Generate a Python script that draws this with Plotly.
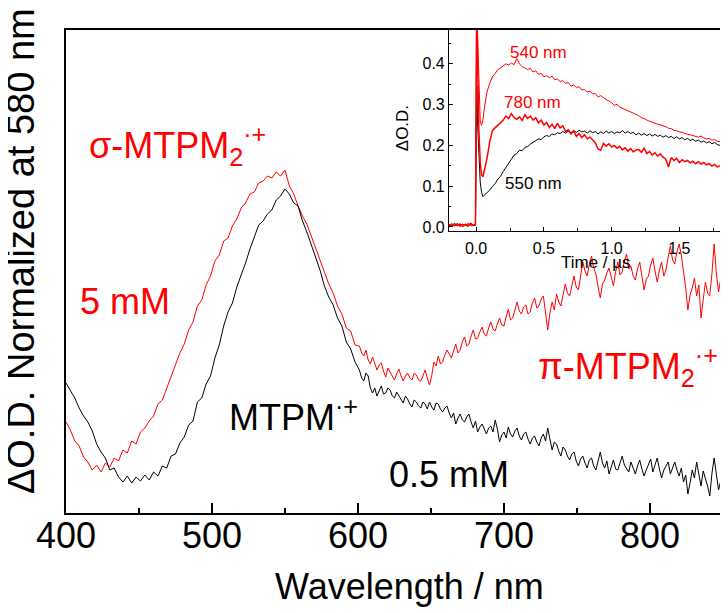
import plotly.graph_objects as go

# main spectra: every 3 nm below 600 nm, every 1.5 nm above
WAVELENGTH = list(range(400, 600, 3)) + [601 + 1.5 * i for i in range(167)]
OD_05MM = [
    0.520, 0.492, 0.460, 0.420, 0.388, 0.364, 0.328, 0.276, 0.244, 0.220,
    0.172, 0.180, 0.144, 0.124, 0.148, 0.120, 0.144, 0.128, 0.152, 0.132,
    0.164, 0.148, 0.188, 0.180, 0.228, 0.236, 0.280, 0.304, 0.352, 0.368,
    0.444, 0.460, 0.516, 0.548, 0.620, 0.672, 0.748, 0.804, 0.840, 0.904,
    0.948, 1.000, 1.056, 1.108, 1.152, 1.168, 1.196, 1.212, 1.252, 1.268,
    1.296, 1.276, 1.240, 1.228, 1.168, 1.124, 1.072, 1.016, 0.972, 0.908,
    0.864, 0.832, 0.780, 0.748, 0.684, 0.656, 0.604,
    # 601 nm onwards
    0.572, 0.540, 0.528, 0.560, 0.548, 0.500, 0.480, 0.500, 0.468, 0.492,
    0.508, 0.476, 0.480, 0.500, 0.492, 0.468, 0.460, 0.484, 0.468, 0.452,
    0.440, 0.468, 0.456, 0.436, 0.424, 0.452, 0.444, 0.428, 0.420, 0.444,
    0.436, 0.416, 0.444, 0.424, 0.412, 0.440, 0.436, 0.416, 0.404, 0.420,
    0.428, 0.400, 0.380, 0.400, 0.356, 0.380, 0.396, 0.372, 0.364, 0.384,
    0.396, 0.364, 0.340, 0.368, 0.324, 0.344, 0.356, 0.336, 0.316, 0.340,
    0.348, 0.324, 0.372, 0.336, 0.284, 0.312, 0.324, 0.300, 0.344, 0.316,
    0.304, 0.328, 0.340, 0.308, 0.292, 0.316, 0.324, 0.296, 0.276, 0.300,
    0.308, 0.284, 0.268, 0.300, 0.316, 0.288, 0.340, 0.296, 0.252, 0.284,
    0.276, 0.248, 0.228, 0.264, 0.252, 0.228, 0.212, 0.236, 0.244, 0.208,
    0.188, 0.216, 0.228, 0.200, 0.180, 0.212, 0.220, 0.188, 0.172, 0.208,
    0.244, 0.200, 0.180, 0.208, 0.156, 0.184, 0.212, 0.176, 0.172, 0.200,
    0.228, 0.192, 0.180, 0.164, 0.204, 0.180, 0.156, 0.188, 0.212, 0.176,
    0.148, 0.172, 0.196, 0.216, 0.164, 0.188, 0.220, 0.176, 0.140, 0.172,
    0.188, 0.204, 0.156, 0.184, 0.204, 0.172, 0.148, 0.180, 0.124, 0.152,
    0.076, 0.120, 0.172, 0.140, 0.204, 0.156, 0.108, 0.168, 0.140, 0.108,
    0.068, 0.160, 0.220, 0.148, 0.092, 0.128, 0.116,
]
OD_5MM = [
    0.364, 0.332, 0.288, 0.268, 0.224, 0.204, 0.172, 0.192, 0.164, 0.200,
    0.184, 0.220, 0.208, 0.252, 0.240, 0.288, 0.276, 0.324, 0.340, 0.368,
    0.388, 0.436, 0.452, 0.500, 0.548, 0.588, 0.640, 0.676, 0.732, 0.764,
    0.828, 0.852, 0.912, 0.948, 1.008, 1.032, 1.088, 1.100, 1.148, 1.176,
    1.220, 1.240, 1.276, 1.284, 1.320, 1.328, 1.348, 1.340, 1.364, 1.348,
    1.372, 1.308, 1.276, 1.228, 1.188, 1.156, 1.108, 1.052, 1.004, 0.964,
    0.916, 0.880, 0.828, 0.796, 0.740, 0.728, 0.672,
    # 601 nm onwards
    0.668, 0.640, 0.628, 0.652, 0.612, 0.596, 0.624, 0.596, 0.572, 0.592,
    0.600, 0.568, 0.544, 0.580, 0.564, 0.548, 0.532, 0.556, 0.576, 0.548,
    0.528, 0.548, 0.560, 0.540, 0.532, 0.560, 0.552, 0.532, 0.528, 0.548,
    0.572, 0.540, 0.512, 0.548, 0.604, 0.588, 0.628, 0.596, 0.604, 0.632,
    0.652, 0.636, 0.620, 0.648, 0.676, 0.640, 0.652, 0.684, 0.704, 0.668,
    0.676, 0.708, 0.732, 0.696, 0.700, 0.724, 0.744, 0.716, 0.708, 0.740,
    0.764, 0.736, 0.728, 0.756, 0.780, 0.752, 0.748, 0.784, 0.816, 0.772,
    0.780, 0.812, 0.844, 0.808, 0.796, 0.824, 0.832, 0.796, 0.804, 0.840,
    0.860, 0.820, 0.828, 0.856, 0.868, 0.800, 0.732, 0.800, 0.844, 0.812,
    0.876, 0.844, 0.828, 0.872, 0.916, 0.880, 0.868, 0.908, 0.948, 0.904,
    0.892, 0.948, 1.004, 0.968, 0.948, 0.996, 1.028, 0.980, 0.956, 0.904,
    0.860, 0.916, 0.932, 0.960, 0.980, 0.944, 0.908, 0.964, 1.004, 0.952,
    0.964, 1.008, 1.036, 0.976, 0.988, 0.948, 0.932, 0.976, 1.004, 0.948,
    0.892, 0.936, 0.948, 0.992, 1.020, 0.968, 0.924, 0.972, 1.004, 0.948,
    0.972, 1.024, 1.068, 1.012, 0.996, 1.044, 1.076, 1.032, 0.972, 0.900,
    0.812, 0.872, 0.900, 0.940, 0.868, 0.912, 0.780, 0.860, 0.924, 0.880,
    0.868, 0.960, 1.076, 0.960, 0.884, 0.936, 0.980,
]

# inset kinetics (time in µs)
TIME_US = ([-0.20, -0.18, -0.16, -0.14, -0.12, -0.10, -0.08, -0.06, -0.04, -0.02,
            -0.005, 0.0, 0.005, 0.01, 0.02, 0.03, 0.04, 0.05, 0.06]
           + [round(0.08 + 0.02 * i, 2) for i in range(87)])
OD_540 = [
    0.004, 0.008, 0.002, 0.006, 0.001, 0.007, 0.003, 0.009, 0.002, 0.005,
    0.004, 0.60, 0.62, 0.48, 0.33, 0.26, 0.249, 0.262, 0.29,
    0.331, 0.352, 0.368, 0.376, 0.386, 0.390, 0.394, 0.400, 0.397, 0.402,
    0.398, 0.413, 0.400, 0.393, 0.390, 0.386, 0.389, 0.380, 0.383, 0.374,
    0.377, 0.368, 0.371, 0.366, 0.370, 0.361, 0.363, 0.356, 0.359, 0.352,
    0.354, 0.345, 0.348, 0.342, 0.344, 0.336, 0.337, 0.331, 0.333, 0.326,
    0.327, 0.319, 0.322, 0.316, 0.312, 0.309, 0.305, 0.298, 0.301, 0.294,
    0.291, 0.289, 0.284, 0.281, 0.279, 0.275, 0.273, 0.268, 0.266, 0.262,
    0.259, 0.256, 0.254, 0.252, 0.250, 0.247, 0.246, 0.242, 0.241, 0.237,
    0.236, 0.233, 0.232, 0.229, 0.228, 0.226, 0.224, 0.222, 0.220, 0.223,
    0.218, 0.216, 0.217, 0.213, 0.214, 0.210, 0.209,
]
OD_780 = [
    0.006, 0.002, 0.008, 0.003, 0.007, 0.001, 0.006, 0.004, 0.009, 0.003,
    0.005, 0.60, 0.62, 0.42, 0.24, 0.16, 0.128, 0.123, 0.136,
    0.168, 0.208, 0.236, 0.243, 0.250, 0.256, 0.262, 0.272, 0.266, 0.278,
    0.268, 0.264, 0.270, 0.261, 0.275, 0.266, 0.272, 0.262, 0.268, 0.255,
    0.262, 0.250, 0.256, 0.244, 0.252, 0.241, 0.254, 0.243, 0.248, 0.234,
    0.238, 0.228, 0.236, 0.222, 0.229, 0.219, 0.226, 0.216, 0.220, 0.214,
    0.206, 0.191, 0.188, 0.205, 0.198, 0.204, 0.196, 0.200, 0.193, 0.198,
    0.189, 0.194, 0.186, 0.192, 0.184, 0.189, 0.190, 0.183, 0.193, 0.180,
    0.185, 0.176, 0.182, 0.174, 0.179, 0.171, 0.166, 0.147, 0.170, 0.163,
    0.168, 0.158, 0.165, 0.160, 0.163, 0.157, 0.161, 0.155, 0.160, 0.154,
    0.158, 0.152, 0.155, 0.149, 0.153, 0.147, 0.150,
]
OD_550 = [
    0.003, 0.007, 0.004, 0.008, 0.002, 0.006, 0.005, 0.001, 0.007, 0.004,
    0.006, 0.20, 0.347, 0.26, 0.16, 0.11, 0.085, 0.074, 0.078,
    0.083, 0.090, 0.099, 0.106, 0.117, 0.124, 0.136, 0.147, 0.158, 0.166,
    0.176, 0.180, 0.188, 0.187, 0.195, 0.197, 0.203, 0.208, 0.211, 0.216,
    0.214, 0.221, 0.224, 0.222, 0.228, 0.226, 0.231, 0.229, 0.234, 0.230,
    0.235, 0.231, 0.236, 0.232, 0.237, 0.233, 0.235, 0.230, 0.236, 0.231,
    0.234, 0.228, 0.233, 0.229, 0.235, 0.230, 0.234, 0.229, 0.233, 0.231,
    0.236, 0.230, 0.234, 0.229, 0.232, 0.226, 0.230, 0.225, 0.229, 0.224,
    0.228, 0.223, 0.227, 0.222, 0.225, 0.220, 0.224, 0.219, 0.222, 0.217,
    0.221, 0.216, 0.219, 0.214, 0.217, 0.212, 0.215, 0.210, 0.213, 0.208,
    0.211, 0.206, 0.209, 0.204, 0.207, 0.202, 0.200,
]

RED = '#FF0000'
FONT = 'Liberation Sans, Arial, sans-serif'

fig = go.Figure()

# main spectra
fig.add_trace(go.Scatter(x=WAVELENGTH, y=OD_5MM, mode='lines',
                         line=dict(color=RED, width=1), xaxis='x', yaxis='y'))
fig.add_trace(go.Scatter(x=WAVELENGTH, y=OD_05MM, mode='lines',
                         line=dict(color='black', width=1), xaxis='x', yaxis='y'))

# inset traces
fig.add_trace(go.Scatter(x=TIME_US, y=OD_550, mode='lines',
                         line=dict(color='black', width=1), xaxis='x2', yaxis='y2'))
fig.add_trace(go.Scatter(x=TIME_US, y=OD_780, mode='lines',
                         line=dict(color=RED, width=1.5), xaxis='x2', yaxis='y2'))
fig.add_trace(go.Scatter(x=TIME_US, y=OD_540, mode='lines',
                         line=dict(color=RED, width=1), xaxis='x2', yaxis='y2'))

frame = dict(showline=True, linecolor='black', mirror=True,
             showgrid=False, zeroline=False)

# page body adds an 8 px margin, so the figure is 8 px smaller than the window
fig.update_layout(
    width=720, height=605,
    margin=dict(l=58, r=6, t=22, b=100),
    plot_bgcolor='white', paper_bgcolor='white',
    showlegend=False,
    font=dict(family=FONT, color='black'),
    xaxis=dict(**frame, domain=[0, 1], range=[400, 848], linewidth=1.8,
               tick0=400, dtick=100, ticks='inside', ticklen=10, tickwidth=1.5,
               tickcolor='black', tickfont=dict(size=36), ticklabelstandoff=-10,
               minor=dict(dtick=50, ticks='inside', ticklen=5, tickwidth=1.5,
                          tickcolor='black')),
    yaxis=dict(**frame, domain=[0, 1], range=[0, 1.932], linewidth=1.8,
               showticklabels=False, ticks=''),
    xaxis2=dict(**frame, domain=[0.5857, 1.0], anchor='y2', range=[-0.2, 1.8],
                linewidth=1.2, tick0=0, dtick=0.5, tickformat='.1f',
                ticks='inside', ticklen=4, tickwidth=1, tickcolor='black',
                tickfont=dict(size=16), ticklabelstandoff=3,
                minor=dict(dtick=0.25, ticks='inside', ticklen=3, tickwidth=1,
                           tickcolor='black')),
    yaxis2=dict(**frame, domain=[0.5839, 1.0], anchor='x2', range=[-0.01, 0.483],
                linewidth=1.2, tick0=0, dtick=0.1, tickformat='.1f',
                ticks='inside', ticklen=4, tickwidth=1, tickcolor='black',
                tickfont=dict(size=16),
                minor=dict(dtick=0.05, ticks='inside', ticklen=2, tickwidth=1,
                           tickcolor='black')),
)

# axis titles (placed as annotations to match the offsets in the figure)
titles = [
    dict(text='ΔO.D. Normalized at 580 nm', x=-0.069, y=0.542, textangle=-90, size=38),
    dict(text='Wavelength / nm', x=0.525, y=-0.153, textangle=0, size=36),
    dict(text='Time / µs', x=0.811, y=0.518, textangle=0, size=17),
    dict(text='ΔO.D.', x=0.514, y=0.797, textangle=-90, size=17),
]
for t in titles:
    fig.add_annotation(text=t['text'], xref='paper', yref='paper', x=t['x'], y=t['y'],
                       xanchor='center', yanchor='middle', textangle=t['textangle'],
                       showarrow=False, font=dict(size=t['size'], color='black'))

# species / concentration labels on the spectra
labels = [
    ('σ-MTPM<sub>2</sub><sup>·+</sup>', 414.5, 1.472, RED),
    ('5 mM', 408.4, 0.846, RED),
    ('MTPM<sup>·+</sup>', 510.6, 0.394, 'black'),
    ('0.5 mM', 619.7, 0.154, 'black'),
    ('π-MTPM<sub>2</sub><sup>·+</sup>', 721.9, 0.586, RED),
]
for text, x, y, color in labels:
    fig.add_annotation(text=text, x=x, y=y, xref='x', yref='y', xanchor='left',
                       yanchor='middle', showarrow=False,
                       font=dict(size=36, color=color))

# wavelength labels in the inset
inset_labels = [
    ('540 nm', 0.238, 0.428, RED),
    ('780 nm', 0.194, 0.305, RED),
    ('550 nm', 0.201, 0.107, 'black'),
]
for text, x, y, color in inset_labels:
    fig.add_annotation(text=text, x=x, y=y, xref='x2', yref='y2', xanchor='left',
                       yanchor='middle', showarrow=False,
                       font=dict(size=17, color=color))

fig.write_html('out.html')
